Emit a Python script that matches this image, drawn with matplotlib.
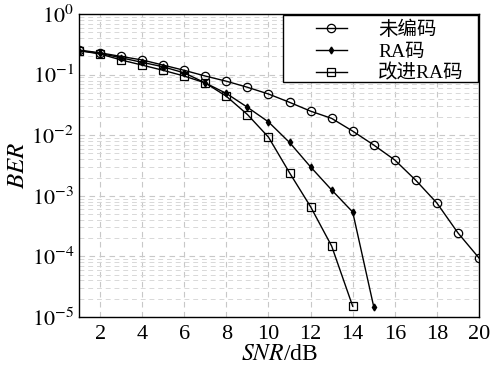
import numpy as np
import matplotlib
matplotlib.use("Agg")
import matplotlib.pyplot as plt
from matplotlib.patches import Rectangle

plt.rcParams['font.family'] = ['Liberation Serif', 'Noto Sans CJK SC']
plt.rcParams['mathtext.fontset'] = 'stix'

# data
snr = list(range(1, 21))
ber_uncoded = [0.255, 0.23, 0.20, 0.175, 0.144, 0.118, 0.095, 0.078, 0.062, 0.048,
               0.035, 0.025, 0.019, 0.0117, 0.0069, 0.0039, 0.0018, 0.00076, 0.000244, 0.000094]
snr_ra = list(range(1, 16))
ber_ra = [0.25, 0.225, 0.19, 0.16, 0.135, 0.107, 0.073, 0.049, 0.029, 0.0166,
          0.0076, 0.0030, 0.00125, 0.00054, 1.47e-5]
snr_imp = list(range(1, 15))
ber_imp = [0.25, 0.22, 0.175, 0.144, 0.118, 0.095, 0.073, 0.044, 0.022, 0.0093,
           0.0024, 0.00066, 0.000148, 1.5e-5]

fig = plt.figure(figsize=(4.92, 3.72), dpi=100)
ax = fig.add_axes([0.1606, 0.148, 0.813, 0.814])

ax.semilogy(snr, ber_uncoded, '-o', color='black', lw=1, ms=6, mfc='none', mew=0.9, label='未编码')
ax.semilogy(snr_ra, ber_ra, '-d', color='black', lw=1, ms=3.5, label='RA码')
ax.semilogy(snr_imp, ber_imp, '-s', color='black', lw=1, ms=6, mfc='none', mew=0.9, label='改进RA码')

ax.set_xlim(1, 20)
ax.set_ylim(1e-5, 1)
ax.set_xticks(range(2, 21, 2))
ax.set_yticks([1e-5, 1e-4, 1e-3, 1e-2, 1e-1, 1])
ax.set_yticklabels(['$10^{-5}$', '$10^{-4}$', '$10^{-3}$', '$10^{-2}$', '$10^{-1}$', '$10^{0}$'])

ax.grid(True, which='major', ls=(0, (5, 4)), color='#c8c8c8', lw=0.8)
ax.grid(True, which='minor', axis='y', ls=(0, (5, 4)), color='#d8d8d8', lw=0.7)
ax.tick_params(which='both', direction='in', length=0, labelsize=16)
ax.tick_params(axis='x', pad=6)
for s in ax.spines.values():
    s.set_linewidth(1.0)

ax.set_xlabel('$\\mathit{SNR}$/dB', fontsize=17, labelpad=0)
ax.set_ylabel('$\\mathit{BER}$', fontsize=18, labelpad=2)

# legend box drawn separately so the entries can sit right of its left edge
box = Rectangle((0.51, 0.776), 0.4875, 0.221, transform=ax.transAxes, facecolor='white',
                edgecolor='black', lw=1.0, zorder=4.5, clip_on=False)
ax.add_patch(box)
leg = ax.legend(loc='upper left', bbox_to_anchor=(0.585, 0.988), frameon=False,
                fontsize=14, borderaxespad=0, handlelength=1.6, labelspacing=0.2,
                handletextpad=1.6, borderpad=0.15)
leg.set_zorder(5)

fig.savefig('out.png', dpi=100)
